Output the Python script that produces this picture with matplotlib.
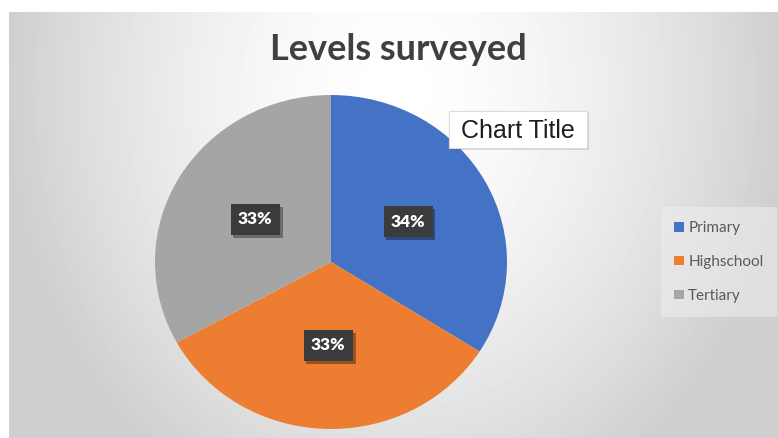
import numpy as np
import matplotlib
matplotlib.use("Agg")
import matplotlib.pyplot as plt
import matplotlib.patheffects as pe
from matplotlib.patches import Rectangle

# survey data
levels = ["Primary", "Highschool", "Tertiary"]
shares = [34, 33, 33]
colors = ["#4472C4", "#ED7D31", "#A5A5A5"]

title = "Levels surveyed"
box_title = "Chart Title"

W, H = 778, 438
fig = plt.figure(figsize=(W / 100, H / 100), dpi=100)
fig.patch.set_facecolor("white")


def frac(x0, y0, w, h):
    # pixel box (top-left origin) -> figure fraction rect
    return [x0 / W, 1 - (y0 + h) / H, w / W, h / H]


# chart area with a soft radial fill
bg = fig.add_axes(frac(9, 12, W - 9, H - 12))
bg.set_axis_off()
yy, xx = np.mgrid[12:H, 9:W]
r = np.sqrt(((xx - 395) / 390.0) ** 2 + ((yy - 90) / 460.0) ** 2)
shade = np.clip(1.0 - 0.19 * r ** 1.6, 0.81, 1.0)
bg.imshow(shade, cmap="gray", vmin=0, vmax=1, aspect="auto",
          interpolation="bilinear")

# pie
cx, cy, rx, ry = 331, 262, 176, 167
ax = fig.add_axes(frac(cx - rx, cy - ry, 2 * rx, 2 * ry))
wedges, _, pcts = ax.pie(shares, colors=colors, startangle=90,
                         counterclock=False, autopct="%1.0f%%",
                         pctdistance=0.5, radius=1.0,
                         wedgeprops=dict(linewidth=0),
                         textprops=dict(color="white", fontsize=12.5,
                                        fontweight="heavy",
                                        family=["Lato", "DejaVu Sans"]))
ax.set_aspect("auto")
ax.set_xlim(-1, 1)
ax.set_ylim(-1, 1)
ax.set_axis_off()

for t in pcts:
    t.set_bbox(dict(boxstyle="square,pad=0.42", facecolor="#3b3b3b",
                    edgecolor="none"))
    t.get_bbox_patch().set_path_effects([
        pe.withSimplePatchShadow(offset=(2, -2), shadow_rgbFace="black",
                                 alpha=0.35),
        pe.Normal()])

# main title
fig.text(398 / W, 1 - 50 / H, title, ha="center", va="center",
         fontsize=26, fontweight="bold", color="#404040",
         family=["Lato", "DejaVu Sans"])

# floating "Chart Title" box
box = Rectangle((449 / W, 1 - 148 / H), 138 / W, 37 / H,
                transform=fig.transFigure, facecolor="white",
                edgecolor="#dcdcdc", linewidth=0.8, zorder=5)
box.set_path_effects([
    pe.withSimplePatchShadow(offset=(1.5, -1.5), shadow_rgbFace="black",
                             alpha=0.12),
    pe.Normal()])
fig.patches.append(box)
fig.text(518 / W, 1 - 131 / H, box_title, ha="center", va="center",
         fontsize=18, color="#1e1e1e", zorder=6,
         family=["Liberation Sans", "DejaVu Sans"])

# legend
leg = fig.legend(wedges, levels, loc="center left",
                 bbox_to_anchor=(653 / W, 1 - 262 / H),
                 frameon=True, fancybox=False, facecolor="#ededed",
                 edgecolor="none", framealpha=0.6,
                 handlelength=0.6, handleheight=0.6, handletextpad=0.3,
                 labelspacing=1.3, borderpad=0.9,
                 prop=dict(family=["Lato", "DejaVu Sans"], size=11))
for txt in leg.get_texts():
    txt.set_color("#595959")

fig.savefig("out.png", dpi=100)
